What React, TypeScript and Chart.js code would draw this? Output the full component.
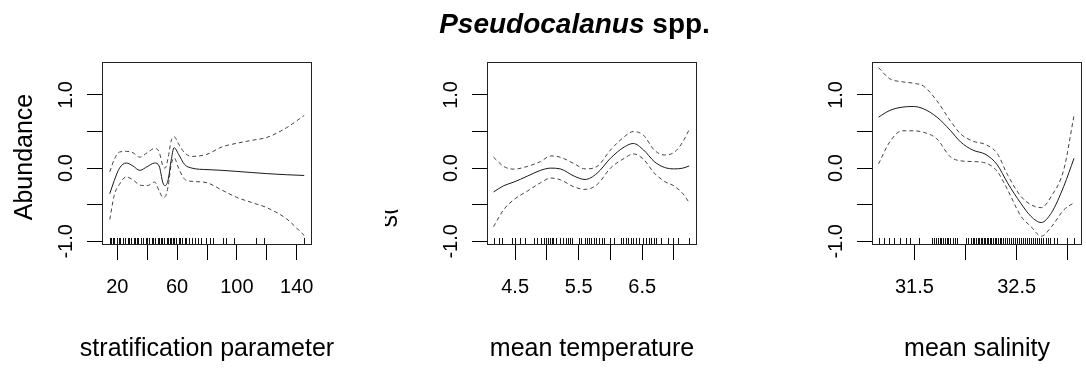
import React, { useEffect, useRef } from "react";
import { Chart, registerables } from "chart.js";

Chart.register(...registerables);

const FONT = '"Liberation Sans", Arial, sans-serif';

// ---------- shared y axis ----------
const Y_MIN = -1.05;
const Y_MAX = 1.45;
const Y_TICKS = [-1.0, -0.5, 0.0, 0.5, 1.0];
const Y_TICK_LABELS = ["-1.0", "", "0.0", "", "1.0"];

// ---------- panel 1: stratification parameter ----------
const STRAT_X = [15, 18, 21.5, 26, 30.5, 35, 40, 45, 48, 50.5, 52, 54, 56, 58, 61, 65, 70, 80, 90, 100, 110, 120, 133, 145];
const STRAT_FIT = [-0.35, -0.17, 0.0, 0.07, 0.03, -0.03, 0.02, 0.07, 0.03, -0.2, -0.24, -0.16, 0.1, 0.28, 0.19, 0.05, 0.0, -0.02, -0.03, -0.045, -0.06, -0.075, -0.09, -0.1];
const STRAT_UPPER = [-0.05, 0.12, 0.22, 0.23, 0.21, 0.15, 0.21, 0.27, 0.22, 0.03, 0.0, 0.14, 0.37, 0.43, 0.33, 0.21, 0.16, 0.19, 0.29, 0.34, 0.38, 0.42, 0.55, 0.72];
const STRAT_LOWER = [-0.7, -0.37, -0.22, -0.12, -0.16, -0.23, -0.24, -0.19, -0.31, -0.4, -0.39, -0.25, 0.04, 0.14, 0.0, -0.15, -0.18, -0.2, -0.3, -0.4, -0.47, -0.54, -0.69, -0.92];
const STRAT_RUG = [15, 16, 17, 18, 20, 21, 22, 24, 25, 27, 28, 29, 31, 32, 33, 34, 36, 37, 39, 40, 41, 43, 44, 45, 47, 48, 49, 50, 51, 53, 54, 55, 56, 57, 58, 59, 61, 62, 63, 65, 66, 68, 70, 72, 74, 76, 79, 82, 84, 91, 93, 98, 113, 118, 145];
const STRAT_TICKS = [20, 40, 60, 80, 100, 120, 140];
const STRAT_TICK_LABELS = ["20", "", "60", "", "100", "", "140"];

// ---------- panel 2: mean temperature ----------
const TEMP_X = [4.16, 4.32, 4.48, 4.69, 4.9, 5.06, 5.21, 5.43, 5.6, 5.79, 6.0, 6.22, 6.36, 6.52, 6.69, 6.85, 7.01, 7.14, 7.24];
const TEMP_FIT = [-0.325, -0.24, -0.19, -0.11, -0.03, 0.0, -0.01, -0.11, -0.155, -0.07, 0.135, 0.29, 0.337, 0.25, 0.09, 0.01, -0.01, 0.0, 0.03];
const TEMP_UPPER = [0.149, 0.023, -0.014, 0.023, 0.09, 0.167, 0.15, 0.06, -0.01, 0.023, 0.247, 0.43, 0.5, 0.45, 0.247, 0.18, 0.22, 0.36, 0.527];
const TEMP_LOWER = [-0.8, -0.567, -0.43, -0.315, -0.2, -0.135, -0.158, -0.257, -0.29, -0.225, 0.0, 0.135, 0.194, 0.122, -0.067, -0.18, -0.248, -0.35, -0.47];
const TEMP_RUG = [4.16, 4.24, 4.3, 4.45, 4.5, 4.58, 4.66, 4.79, 4.84, 4.9, 4.95, 4.98, 5.02, 5.05, 5.08, 5.1, 5.14, 5.2, 5.25, 5.3, 5.33, 5.37, 5.4, 5.5, 5.54, 5.6, 5.63, 5.66, 5.7, 5.74, 5.78, 5.82, 5.86, 5.9, 6.0, 6.06, 6.16, 6.2, 6.24, 6.28, 6.32, 6.36, 6.4, 6.45, 6.52, 6.56, 6.6, 6.64, 6.68, 6.72, 6.8, 6.9, 6.98, 7.06, 7.24];
const TEMP_TICKS = [4.5, 5.0, 5.5, 6.0, 6.5, 7.0];
const TEMP_TICK_LABELS = ["4.5", "", "5.5", "", "6.5", ""];

// ---------- panel 3: mean salinity ----------
const SAL_X = [31.15, 31.26, 31.38, 31.49, 31.59, 31.72, 31.85, 31.95, 32.07, 32.2, 32.31, 32.41, 32.54, 32.64, 32.74, 32.84, 32.96, 33.06];
const SAL_FIT = [0.697, 0.788, 0.833, 0.842, 0.81, 0.697, 0.518, 0.36, 0.247, 0.185, 0.045, -0.2, -0.48, -0.66, -0.743, -0.608, -0.248, 0.135];
const SAL_UPPER = [1.373, 1.22, 1.18, 1.16, 1.12, 0.92, 0.65, 0.47, 0.37, 0.32, 0.2, -0.09, -0.383, -0.5, -0.54, -0.38, -0.02, 0.72];
const SAL_LOWER = [0.058, 0.36, 0.51, 0.51, 0.49, 0.4, 0.157, 0.1, 0.09, 0.068, -0.045, -0.293, -0.653, -0.8, -0.93, -0.8, -0.57, -0.473];
const SAL_RUG = [31.15, 31.2, 31.25, 31.3, 31.36, 31.42, 31.46, 31.55, 31.67, 31.69, 31.71, 31.73, 31.75, 31.76, 31.78, 31.8, 31.82, 31.83, 31.85, 31.88, 31.9, 31.92, 32.0, 32.02, 32.05, 32.07, 32.08, 32.1, 32.12, 32.13, 32.15, 32.16, 32.18, 32.19, 32.21, 32.22, 32.24, 32.25, 32.27, 32.29, 32.3, 32.32, 32.34, 32.35, 32.37, 32.39, 32.41, 32.42, 32.44, 32.46, 32.48, 32.5, 32.52, 32.54, 32.56, 32.58, 32.6, 32.62, 32.64, 32.66, 32.68, 32.7, 32.72, 32.74, 32.76, 32.79, 32.81, 32.83, 32.86, 32.89, 32.99, 33.06];
const SAL_TICKS = [31.5, 32.0, 32.5, 33.0];
const SAL_TICK_LABELS = ["31.5", "", "32.5", ""];

const TITLE_ITALIC = "Pseudocalanus";
const TITLE_PLAIN = " spp.";

type Panel = {
  left: number;
  width: number;
  xMin: number;
  xMax: number;
  xs: number[];
  fit: number[];
  upper: number[];
  lower: number[];
  rug: number[];
  xTicks: number[];
  xTickLabels: string[];
  xTitle: string;
  yTitle: string;
  yTitleDx: number;
  yTitleY: number;
  yTitleClip?: [number, number];
  showTitle: boolean;
};

const PANELS: Panel[] = [
  {
    left: 0, width: 385, xMin: 9.8, xMax: 150.2,
    xs: STRAT_X, fit: STRAT_FIT, upper: STRAT_UPPER, lower: STRAT_LOWER, rug: STRAT_RUG,
    xTicks: STRAT_TICKS, xTickLabels: STRAT_TICK_LABELS,
    xTitle: "stratification parameter", yTitle: "Abundance", yTitleDx: -70, yTitleY: 157, showTitle: false,
  },
  {
    left: 385, width: 385, xMin: 4.057, xMax: 7.363,
    xs: TEMP_X, fit: TEMP_FIT, upper: TEMP_UPPER, lower: TEMP_LOWER, rug: TEMP_RUG,
    xTicks: TEMP_TICKS, xTickLabels: TEMP_TICK_LABELS,
    xTitle: "mean temperature", yTitle: "s(", yTitleDx: -90, yTitleY: 217, yTitleClip: [-1, 13], showTitle: true,
  },
  {
    left: 770, width: 316, xMin: 31.086, xMax: 33.138,
    xs: SAL_X, fit: SAL_FIT, upper: SAL_UPPER, lower: SAL_LOWER, rug: SAL_RUG,
    xTicks: SAL_TICKS, xTickLabels: SAL_TICK_LABELS,
    xTitle: "mean salinity", yTitle: "", yTitleDx: -70, yTitleY: 157, showTitle: false,
  },
];

const PLOT_LEFT = 102;
const PLOT_RIGHT = 312;
const PLOT_TOP = 62;
const PLOT_BOTTOM = 245;
const H = 371;

function PanelChart({ p }: { p: Panel }) {
  const ref = useRef<HTMLCanvasElement | null>(null);
  useEffect(() => {
    if (!ref.current) return;
    const pts = (ys: number[]) => p.xs.map((x, i) => ({ x, y: ys[i] }));
    const decor = {
      id: "rdecor",
      afterDraw(chart: any) {
        const ctx = chart.ctx as CanvasRenderingContext2D;
        const { left, right, top, bottom } = chart.chartArea;
        const xs = chart.scales.x;
        const ys = chart.scales.y;
        ctx.save();
        // box
        ctx.strokeStyle = "#222";
        ctx.lineWidth = 1;
        ctx.strokeRect(Math.round(left) + 0.5, Math.round(top) + 0.5, Math.round(right - left) - 1, Math.round(bottom - top) - 1);
        // rug
        ctx.strokeStyle = "#111";
        ctx.beginPath();
        p.rug.forEach((v) => {
          const px = Math.round(xs.getPixelForValue(v)) + 0.5;
          ctx.moveTo(px, bottom - 7);
          ctx.lineTo(px, bottom - 1);
        });
        ctx.stroke();
        // x tick labels
        ctx.fillStyle = "#000";
        ctx.font = `20px ${FONT}`;
        ctx.textAlign = "center";
        ctx.textBaseline = "alphabetic";
        p.xTicks.forEach((v, i) => {
          const lab = p.xTickLabels[i];
          if (lab) ctx.fillText(lab, xs.getPixelForValue(v), 293);
        });
        // y tick labels (rotated)
        Y_TICKS.forEach((v, i) => {
          const lab = Y_TICK_LABELS[i];
          if (!lab) return;
          ctx.save();
          ctx.translate(left - 30, ys.getPixelForValue(v));
          ctx.rotate(-Math.PI / 2);
          ctx.fillText(lab, 0, 0);
          ctx.restore();
        });
        // x title
        ctx.font = `25px ${FONT}`;
        ctx.fillText(p.xTitle, (left + right) / 2, 356);
        // y title
        if (p.yTitle) {
          ctx.save();
          if (p.yTitleClip) {
            ctx.beginPath();
            ctx.rect(p.yTitleClip[0], 0, p.yTitleClip[1] - p.yTitleClip[0], H);
            ctx.clip();
          }
          ctx.translate(left + p.yTitleDx, p.yTitleY);
          ctx.rotate(-Math.PI / 2);
          ctx.fillText(p.yTitle, 0, 0);
          ctx.restore();
        }
        // main title
        if (p.showTitle) {
          const cx = 574.5 - p.left;
          ctx.font = `italic bold 28px ${FONT}`;
          const w1 = ctx.measureText(TITLE_ITALIC).width;
          ctx.font = `bold 28px ${FONT}`;
          const w2 = ctx.measureText(TITLE_PLAIN).width;
          const sx = cx - (w1 + w2) / 2;
          ctx.textAlign = "left";
          ctx.font = `italic bold 28px ${FONT}`;
          ctx.fillText(TITLE_ITALIC, sx, 33);
          ctx.font = `bold 28px ${FONT}`;
          ctx.fillText(TITLE_PLAIN, sx + w1, 33);
        }
        ctx.restore();
      },
    };
    const lineDs = (ys: number[], dashed: boolean) => ({
      data: pts(ys),
      borderColor: dashed ? "#444" : "#1a1a1a",
      borderWidth: 1,
      borderDash: dashed ? [4, 3] : [],
      pointRadius: 0,
      fill: false,
      cubicInterpolationMode: "monotone" as const,
    });
    const chart = new Chart(ref.current, {
      type: "line",
      data: {
        datasets: [lineDs(p.fit, false), lineDs(p.upper, true), lineDs(p.lower, true)],
      },
      options: {
        animation: false,
        responsive: false,
        devicePixelRatio: 1,
        layout: { padding: { left: 0, top: PLOT_TOP, right: 385 - PLOT_RIGHT, bottom: 0 } },
        plugins: { legend: { display: false }, tooltip: { enabled: false }, title: { display: false } },
        scales: {
          x: {
            type: "linear",
            min: p.xMin,
            max: p.xMax,
            afterBuildTicks: (s: any) => { s.ticks = p.xTicks.map((v) => ({ value: v })); },
            afterFit: (s: any) => { s.height = H - PLOT_BOTTOM; },
            ticks: { display: false },
            grid: { drawOnChartArea: false, drawTicks: true, tickLength: 15, color: "#000", lineWidth: 1 },
            border: { display: false },
          },
          y: {
            type: "linear",
            min: Y_MIN,
            max: Y_MAX,
            afterBuildTicks: (s: any) => { s.ticks = Y_TICKS.map((v) => ({ value: v })); },
            afterFit: (s: any) => { s.width = PLOT_LEFT; },
            ticks: { display: false },
            grid: { drawOnChartArea: false, drawTicks: true, tickLength: 15, color: "#000", lineWidth: 1 },
            border: { display: false },
          },
        },
      },
      plugins: [decor],
    });
    return () => chart.destroy();
  }, [p]);
  return (
    <canvas
      ref={ref}
      width={385}
      height={H}
      style={{ position: "absolute", left: p.left, top: 0, width: 385, height: H }}
    />
  );
}

export default function App() {
  return (
    <div
      style={{
        position: "absolute",
        left: 0,
        top: 0,
        width: 1086,
        height: H,
        overflow: "hidden",
        background: "#fff",
      }}
    >
      {PANELS.map((p, i) => (
        <PanelChart key={i} p={p} />
      ))}
    </div>
  );
}
